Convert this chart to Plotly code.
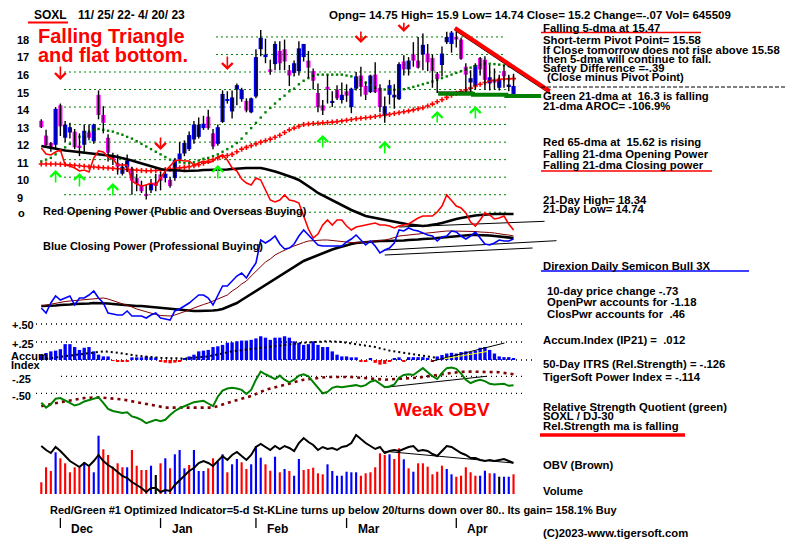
import plotly.graph_objects as go

W, H = 800, 540

# ---------------- DATA (trading-day index 0 = 11/25/22 ... 99 = 4/20/23) ----------------
opens = [13.22,12.37,11.95,11.85,14.10,12.25,12.55,12.60,11.80,11.85,
         12.55,12.05,14.70,13.55,12.25,11.20,10.80,10.20,10.55,10.50,
         9.95,9.55,9.05,9.25,9.70,10.15,9.95,9.85,9.95,11.00,
         11.35,11.60,12.15,12.30,12.80,13.45,12.50,11.90,13.15,14.35,
         13.75,15.00,14.45,14.35,13.70,14.60,17.30,16.85,16.15,16.45,
         17.20,17.30,16.10,15.95,16.05,16.85,16.65,16.05,14.80,14.10,
         15.15,14.25,15.00,14.40,14.90,14.00,15.05,15.80,15.20,14.85,
         15.85,15.10,13.50,14.70,14.55,14.45,16.60,16.15,17.00,16.65,
         17.00,17.05,16.80,15.90,16.40,17.70,17.60,18.00,17.85,16.30,
         15.40,15.20,16.80,16.70,15.35,15.55,15.10,16.05,15.20,14.75]
highs = [13.30,12.70,12.00,14.00,14.20,13.20,13.10,12.75,12.50,13.00,
         13.00,13.05,14.95,14.05,12.45,11.40,11.30,10.80,11.30,10.60,
         10.20,9.80,9.60,9.90,10.20,10.30,10.40,10.00,11.10,12.00,
         12.10,12.60,13.20,13.40,13.50,13.85,12.75,13.00,14.95,14.90,
         14.95,15.35,15.10,14.50,14.55,17.30,18.40,17.90,16.70,17.75,
         17.75,17.85,16.40,16.65,17.75,17.60,17.20,16.20,15.35,14.40,
         15.85,14.90,15.25,15.40,15.30,15.10,16.00,16.30,15.45,15.85,
         16.55,15.30,14.60,15.55,15.30,16.55,16.95,16.85,17.70,18.00,
         18.20,17.60,17.00,16.00,17.45,18.30,18.34,18.30,17.95,16.50,
         16.10,16.50,16.85,16.90,16.40,16.20,15.85,16.40,15.85,15.90]
lows = [12.80,11.80,11.45,11.60,12.35,12.00,12.20,11.60,11.20,11.45,
        12.10,11.90,13.30,12.50,10.90,10.70,10.15,10.10,10.30,9.00,
        9.20,9.10,8.72,9.10,9.20,9.25,9.70,9.40,9.80,10.90,
        11.20,11.50,11.90,12.20,12.70,12.70,11.60,11.80,13.10,14.20,
        13.35,14.10,14.30,13.70,13.65,14.50,16.90,16.50,15.85,16.10,
        16.10,16.10,15.20,15.75,15.80,16.60,15.65,15.00,13.70,13.55,
        14.20,14.00,14.40,14.20,14.30,13.65,14.95,14.60,14.40,14.80,
        14.80,13.70,13.10,14.15,13.90,14.40,15.80,15.80,16.30,16.20,
        16.10,16.05,15.10,14.80,15.75,17.60,17.10,17.40,16.70,14.80,
        14.80,15.00,15.80,15.00,14.95,15.00,14.95,15.10,14.90,14.74]
closes = [12.85,11.82,11.70,13.90,12.90,13.00,12.85,11.70,11.70,12.65,
          12.25,13.00,13.55,13.10,11.40,11.00,10.60,10.60,10.95,9.80,
          9.60,9.20,8.95,9.65,9.50,9.80,10.20,9.50,11.00,11.35,
          11.95,12.40,13.00,13.00,13.05,12.80,11.75,12.85,14.75,14.45,
          14.55,15.25,15.00,13.80,14.50,16.85,17.95,17.00,16.05,17.60,
          16.50,16.60,15.80,16.50,17.35,17.60,16.25,15.50,14.00,13.80,
          15.00,14.35,14.50,14.70,14.65,15.05,15.75,15.15,14.70,15.80,
          14.85,14.00,14.05,15.25,14.70,16.45,16.15,16.65,16.65,16.25,
          17.55,16.55,16.05,15.60,17.05,18.00,18.25,17.85,16.75,15.85,
          15.65,16.40,16.15,15.55,15.70,15.40,15.60,15.75,15.27,15.20]

ma21 = [10.9,11.0,11.1,11.3,11.5,11.7,11.9,12.1,12.3,12.45,
        12.6,12.7,12.75,12.7,12.65,12.6,12.5,12.42,12.3,12.2,
        12.05,11.9,11.75,11.6,11.45,11.3,11.15,11.0,10.9,10.85,
        10.8,10.8,10.85,10.95,11.05,11.1,11.2,11.3,11.45,11.6,
        11.75,11.95,12.2,12.5,12.8,13.1,13.4,13.7,13.95,14.2,
        14.45,14.65,14.9,15.05,15.3,15.5,15.65,15.78,15.85,15.85,
        15.85,15.85,15.85,15.85,15.8,15.75,15.65,15.55,15.4,15.25,
        15.1,15.0,15.0,15.0,14.98,15.0,15.02,15.08,15.15,15.22,
        15.3,15.38,15.46,15.55,15.65,15.75,15.85,15.95,16.05,16.15,
        16.25,16.35,16.42,16.47,16.47,16.45,16.42,16.38,16.33,16.3]
ma65 = [10.75,10.75,10.75,10.75,10.74,10.72,10.70,10.68,10.65,10.62,
        10.60,10.58,10.56,10.54,10.52,10.50,10.48,10.46,10.44,10.42,
        10.40,10.38,10.37,10.37,10.38,10.40,10.43,10.46,10.50,10.53,
        10.56,10.60,10.65,10.71,10.80,10.90,11.00,11.10,11.19,11.24,
        11.30,11.45,11.60,11.70,11.80,11.90,12.00,12.08,12.17,12.28,
        12.39,12.55,12.70,12.80,12.90,13.00,13.03,13.06,13.08,13.10,
        13.12,13.14,13.17,13.21,13.25,13.29,13.33,13.36,13.39,13.42,
        13.46,13.50,13.54,13.58,13.63,13.68,13.73,13.78,13.84,13.90,
        13.96,14.06,14.17,14.30,14.42,14.55,14.68,14.78,14.88,14.98,
        15.08,15.20,15.30,15.40,15.47,15.53,15.58,15.60,15.61,15.62]

open_power = [110,104,103,106,108,93,92,90,87,88,
              86,100,107,106,101,99,93,93,93,77,
              74,72,73,75,73,80,87,92,97,98,
              97,97,93,95,97,95,97,101,103,98,
              90,87,79,75,73,80,78,68,58,56,
              58,63,58,57,55,42,29,20,24,33,
              38,33,38,38,32,28,31,32,33,34,
              35,33,33,32,30,32,33,34,37,40,
              42,42,42,46,52,63,57,52,50,45,
              36,32,38,45,43,39,40,42,34,28]
close_power = [-50,-55,-45,-38,-42,-40,-38,-47,-40,-40,
               -37,-33,-40,-45,-55,-56,-57,-57,-53,-58,
               -58,-58,-60,-57,-55,-60,-61,-62,-53,-51,
               -48,-45,-41,-37,-37,-40,-47,-38,-28,-28,
               -23,-18,-15,-20,-12,-5,18,15,18,22,
               14,9,10,14,22,28,23,18,13,12,
               12,12,12,12,16,19,23,18,13,17,
               12,5,8,10,15,28,27,30,28,27,
               25,23,22,17,21,22,27,26,22,19,
               22,26,20,14,13,15,18,17,17,19]
open_power_ma = [112,111,110,109,108,107.5,107,106.5,106,105.5,
                 105,104.5,104,103.5,103,102,101,100,99,97.5,
                 96,94.5,93,91.5,90,89,88,88,88,87.5,
                 87,87,87,87.5,88,88,88,88,88,88.5,
                 89,89.5,90,90,90,90,90,89,88,86.5,
                 85,83.5,82,80,78,75,72,68.5,65,62.5,
                 60,57.5,55,52.5,50,48,46,44,42,41,
                 40,39,38,37,36,35,34,33.5,33,32.5,
                 32,32.5,33,34,35,36.5,38,39,40,41,
                 42,42.5,43,43.5,44,44,44,44,44,44]
close_power_ma = [-48,-48,-47.5,-47.5,-47,-47,-46.5,-46,-46,-46,
                  -45.5,-45,-45,-45,-45.5,-46,-46.5,-47,-47,-47.5,
                  -48,-48,-48.5,-49,-49.5,-50,-50.5,-51,-51.5,-52,
                  -52,-52.5,-53,-53,-53,-53,-52.5,-52,-51,-49,
                  -47,-45,-42,-39,-36,-33,-30,-27,-24,-21,
                  -18,-15,-12,-9,-6,-3,-1,1,3,5,
                  7,8.5,10,11.5,13,14,15,15.5,16,16.5,
                  17,17,17,17,17,17,17.5,18,18,18.5,
                  19,19,19.5,20,20.5,21,21.5,22,22.5,23,
                  23,23,23,22.5,22.5,22,21.5,21,20.5,20]
close_power_ma_short = [-48,-47,-46,-45,-44,-43.5,-43,-42.5,-42,-41.5,
                        -41,-40.5,-40,-40,-41,-42.5,-44,-45.5,-47,-49,
                        -51,-52.5,-54,-55.5,-56.5,-57.5,-58,-58,-57,-55.5,
                        -54,-52,-50,-48,-46.5,-45,-43,-41,-39,-37,
                        -33,-30,-26,-23,-18,-13,-8,-4,-1,3,
                        5.5,8,10,12,14,15.5,17,17.5,18,18,
                        18,17.5,17,17,16,15.5,15,15.5,16,16.5,
                        17,17,18,19,20.5,22,22.5,23,23.5,24,
                        25,25.5,26,26.5,27,27,27,27,27,27,
                        27,26.5,26,26,25.5,25,24,23.5,23,22]

accum = [.074,.097,.12,.13,.15,.22,.22,.18,.14,.17,
         .18,.12,.074,.05,.05,-.01,-.02,-.02,-.02,.037,
         .037,.037,.05,.037,.037,-.028,-.037,-.046,-.037,-.02,
         .028,.05,.074,.12,.13,.14,.18,.19,.21,.24,
         .245,.26,.27,.27,.28,.30,.33,.31,.28,.31,
         .31,.33,.31,.26,.24,.21,.22,.26,.21,.18,
         .18,.12,.074,.05,.05,.037,.037,-.028,-.02,.028,
         -.04,-.065,-.055,-.028,.028,.037,-.02,.04,.04,.04,
         .04,.03,-.02,.05,.07,.09,.10,.09,.11,.12,
         .11,.13,.17,.18,.14,.09,.05,.04,.04,.02]
accum_ma_idx = [0,5,10,13,16,20,25,30,35,40,45,50,55,60,63,66,70,73,77,80,83]
accum_ma = [.01,.05,.10,.12,.10,.06,.03,.02,.05,.12,.16,.20,.24,.26,.25,.22,.18,.13,.09,.06,.03]

rs_quotient = [-.64,-.71,-.66,-.58,-.57,-.60,-.64,-.68,-.66,-.62,
               -.60,-.58,-.56,-.64,-.73,-.76,-.77,-.79,-.78,-.84,
               -.86,-.89,-.94,-.91,-.89,-.91,-.89,-.82,-.76,-.72,
               -.69,-.66,-.63,-.62,-.61,-.65,-.69,-.55,-.46,-.43,
               -.42,-.43,-.45,-.51,-.45,-.30,-.18,-.22,-.26,-.29,
               -.24,-.30,-.34,-.30,-.24,-.22,-.25,-.33,-.42,-.50,
               -.48,-.42,-.40,-.41,-.40,-.39,-.38,-.40,-.38,-.33,
               -.31,-.36,-.41,-.40,-.37,-.27,-.23,-.22,-.23,-.18,
               -.13,-.19,-.25,-.29,-.20,-.13,-.12,-.14,-.21,-.30,
               -.35,-.32,-.30,-.32,-.36,-.37,-.36,-.36,-.39,-.38]
rs_ma_idx = [0,4,9,12,17,21,26,30,36,40,44,47,51,55,60,65,72,79,86,89,96,99]
rs_ma = [-.69,-.63,-.57,-.56,-.59,-.64,-.71,-.71,-.71,-.62,-.54,-.45,-.37,-.30,-.26,-.26,-.30,-.27,-.20,-.18,-.19,-.22]

volume_k = [384,876,754,1368,1171,1007,712,876,876,1040,
            895,712,1912,1466,1279,895,1007,876,876,1443,
            928,787,787,928,623,1007,1171,843,1302,1443,
            843,951,1443,754,754,843,1171,1059,1302,712,
            974,1148,1040,820,974,1574,1191,974,764,1223,
            712,820,754,600,1148,787,820,863,679,646,
            974,754,600,600,731,712,712,600,679,712,
            876,1335,1279,1302,1148,1499,1138,843,731,1007,
            1007,895,646,731,928,820,646,567,600,876,
            712,600,600,764,679,679,567,567,567,646]
volume_dir = list("rrrbrrrrrbrbbrrrrrbrrrrbkrbrbbbrbbbrrbbrbbrrbbbrrbrbrbbrrrrrbbbbbbbrrrrrrbrrbrbrrrrrrbbrrrrrbbrbkbbr")
obv = [48,44,41,47,43,38,33,30,27,31,28,33,39,33,29,26,22,18,16,12,
       9,6,2,6,6,2,4,3,9,14,19,23,26,31,33,31,28,33,38,34,
       39,42,38,34,39,47,50,47,44,48,45,48,46,43,51,56,52,49,44,47,
       45,46,44,47,48,51,59,55,51,48,45,47,41,43,44,43,45,47,48,43,
       44,43,40,38,43,48,47,44,41,39,36,36,34,33,34,33,34,35,33,31]

# trend lines (x = trading-day index)
resist_x, resist_y = [86.7, 106.6], [18.51, 14.90]
support_x, support_y = [83.2, 90.5, 90.5, 97.5, 97.5, 104.8], [14.76, 14.76, 14.70, 14.70, 14.63, 14.63]
low_line_x, low_line_y = [83.0, 90.5], [14.86, 14.86]
power_tl = [([75, 105.5], [31, 36.7]), ([72, 108], [8, 17.3]), ([72, 103], [3, 10])]
accum_tl_x, accum_tl_y = [81.8, 97.1], [-0.018, 0.236]
accum_yl_x, accum_yl_y = [84.6, 93.6], [0.018, 0.12]
rs_tl_x, rs_tl_y = [72.3, 93.3], [-0.41, -0.25]
obv_tl_x, obv_tl_y = [72, 98.9], [42.7, 31]

sell_idx = [4, 39, 25, 67, 76]
sell_head = [15.54, 16.11, 11.55, 17.65, 18.28]
sell_tail = [16.40, 16.97, 12.35, 18.40, 18.90]
buy_idx = [3, 8, 15, 37, 59, 72, 83, 91]
buy_head = [10.41, 10.24, 9.67, 10.70, 12.41, 12.06, 13.78, 14.06]
buy_tail = [9.61, 9.38, 8.87, 9.84, 11.61, 11.27, 13.03, 13.26]

price_grid_levels = [8, 9, 10, 11, 12, 13, 14, 15, 16]
price_grid_high_levels = [17, 18]
price_tick_labels = [18, 17, 16, 15, 14, 13, 12, 11, 10, 9]
month_idx = [4, 25, 45, 64, 87]
month_names = ["Dec", "Jan", "Feb", "Mar", "Apr"]

# ---------------- geometry helpers ----------------
X_PX0, X_SLOPE = 33.3, 4.77
x0 = -X_PX0 / X_SLOPE
x_range = [x0, x0 + W / X_SLOPE]


def yrange(v_ref, py_ref, px_per_unit):
    span = H / px_per_unit
    r0 = v_ref - (1 - py_ref / H) * span
    return [r0, r0 + span]


def px(x):
    return x / W


def py(y):
    return 1 - y / H


n = len(closes)
idx = list(range(n))
BLUE, MAG, RED, GREEN = "#0000ff", "#ff00ff", "#ff0000", "#008000"

fig = go.Figure()

# ---- price panel ----
fig.add_trace(go.Scatter(x=idx, y=ma21, mode="markers", marker=dict(symbol="square", size=2.4, color=GREEN), yaxis="y", hoverinfo="skip"))
fig.add_trace(go.Scatter(x=idx, y=ma65, mode="markers",
                         marker=dict(symbol="cross-thin", size=3.6, color=RED, line=dict(width=1.6, color=RED)),
                         yaxis="y", hoverinfo="skip"))
wx, wy = [], []
for i in idx:
    wx += [i, i, None]
    wy += [lows[i], highs[i], None]
fig.add_trace(go.Scatter(x=wx, y=wy, mode="lines", line=dict(color="black", width=1.4), yaxis="y", hoverinfo="skip"))
body_base = [min(o, c) for o, c in zip(opens, closes)]
body_h = [max(abs(c - o), 0.08) for o, c in zip(opens, closes)]
body_col = [BLUE if c >= o else MAG for o, c in zip(opens, closes)]
fig.add_trace(go.Bar(x=idx, y=body_h, base=body_base, width=0.88, marker=dict(color=body_col, line=dict(width=0)), yaxis="y", hoverinfo="skip"))
fig.add_trace(go.Scatter(x=resist_x, y=[v - 0.1 for v in resist_y], mode="lines", line=dict(color="black", width=2), yaxis="y"))
fig.add_trace(go.Scatter(x=resist_x, y=resist_y, mode="lines", line=dict(color=RED, width=4), yaxis="y"))
fig.add_trace(go.Scatter(x=low_line_x, y=low_line_y, mode="lines", line=dict(color="black", width=1), yaxis="y"))
fig.add_trace(go.Scatter(x=support_x, y=support_y, mode="lines", line=dict(color=GREEN, width=4), yaxis="y"))

# ---- power panel ----
for tx, ty in power_tl:
    fig.add_trace(go.Scatter(x=tx, y=ty, mode="lines", line=dict(color="black", width=1), yaxis="y2"))
fig.add_trace(go.Scatter(x=idx, y=open_power_ma, mode="lines", line=dict(color="black", width=2.6), yaxis="y2"))
fig.add_trace(go.Scatter(x=idx, y=close_power_ma, mode="lines", line=dict(color="black", width=2.6), yaxis="y2"))
fig.add_trace(go.Scatter(x=idx, y=close_power_ma_short, mode="lines", line=dict(color="#800000", width=1), yaxis="y2"))
fig.add_trace(go.Scatter(x=idx, y=open_power, mode="lines", line=dict(color=RED, width=1.6), yaxis="y2"))
fig.add_trace(go.Scatter(x=idx, y=close_power, mode="lines", line=dict(color=BLUE, width=1.6), yaxis="y2"))

# ---- accumulation index ----
fig.add_trace(go.Bar(x=idx, y=accum, width=0.7, marker=dict(color=[BLUE if a >= 0 else RED for a in accum], line=dict(width=0)), yaxis="y3"))
fig.add_trace(go.Scatter(x=accum_ma_idx, y=accum_ma, mode="lines", line=dict(color="black", width=2, dash="2px,3px"), yaxis="y3"))
fig.add_trace(go.Scatter(x=accum_tl_x, y=accum_tl_y, mode="lines", line=dict(color="black", width=1), yaxis="y3"))
fig.add_trace(go.Scatter(x=accum_yl_x, y=accum_yl_y, mode="lines", line=dict(color="#ffff00", width=1), yaxis="y3"))

# ---- relative strength ----
fig.add_trace(go.Scatter(x=rs_ma_idx, y=rs_ma, mode="lines", line=dict(color="#800000", width=2.6, dash="3px,4px"), yaxis="y4"))
fig.add_trace(go.Scatter(x=rs_tl_x, y=rs_tl_y, mode="lines", line=dict(color="black", width=1), yaxis="y4"))
fig.add_trace(go.Scatter(x=idx, y=rs_quotient, mode="lines", line=dict(color=GREEN, width=2), yaxis="y4"))

# ---- volume & OBV ----
vc = {"r": RED, "b": BLUE, "k": "black"}
fig.add_trace(go.Bar(x=idx, y=volume_k, width=0.45, marker=dict(color=[vc[c] for c in volume_dir], line=dict(width=0)), yaxis="y5"))
fig.add_trace(go.Scatter(x=obv_tl_x, y=obv_tl_y, mode="lines", line=dict(color="black", width=1), yaxis="y6"))
fig.add_trace(go.Scatter(x=idx, y=obv, mode="lines", line=dict(color="black", width=2), yaxis="y6"))

# ---------------- shapes ----------------
shapes = []
gstart, gstart_hi, gend = (56 - X_PX0) / X_SLOPE, (208 - X_PX0) / X_SLOPE, (498 - X_PX0) / X_SLOPE
for lv in price_grid_levels:
    shapes.append(dict(type="line", xref="x", yref="y", x0=gstart, x1=gend, y0=lv, y1=lv, layer="below",
                       line=dict(color=GREEN, width=1, dash="2px,3px")))
for lv in price_grid_high_levels:
    shapes.append(dict(type="line", xref="x", yref="y", x0=gstart_hi, x1=gend, y0=lv, y1=lv, layer="below",
                       line=dict(color=GREEN, width=1, dash="2px,3px")))
dl = dict(color="black", width=1.3, dash="1px,4px")
for yv, xa, xb in [(352 - 0.5 * 72, 28, 518), (352 - 0.25 * 72, 28, 518), (352, 28, 527)]:
    shapes.append(dict(type="line", xref="paper", yref="paper", x0=px(xa), x1=px(xb), y0=py(yv), y1=py(yv), layer="below", line=dl))
for yv, xa, xb in [(368.3, 53, 518), (385.3, 28, 518)]:
    shapes.append(dict(type="line", xref="paper", yref="paper", x0=px(xa), x1=px(xb), y0=py(yv), y1=py(yv), layer="below", line=dl))
for mi in month_idx:
    shapes.append(dict(type="line", xref="x", yref="paper", x0=mi, x1=mi, y0=py(510), y1=py(520), line=dict(color="black", width=1.3)))
# underlines
for xa, xb, yv, col, wd in [(20, 60, 14.5, RED, 2), (533, 693, 24.5, RED, 1.5), (533, 704, 163, RED, 1.5),
                            (533, 741, 263, BLUE, 1.5), (532, 677, 427, RED, 3.5)]:
    shapes.append(dict(type="line", xref="paper", yref="paper", x0=px(xa), x1=px(xb), y0=py(yv), y1=py(yv), line=dict(color=col, width=wd)))
shapes.append(dict(type="line", xref="paper", yref="paper", x0=px(533), x1=px(777), y0=py(79), y1=py(79),
                   line=dict(color="black", width=1, dash="4px,2px")))

# ---------------- annotations ----------------
ann = []
FONT = "Liberation Sans, Arial, sans-serif"


def txt(x, y, s, size=11, color="black", bold=True):
    ann.append(dict(xref="paper", yref="paper", x=px(x), y=py(y), text=("<b>%s</b>" % s) if bold else s,
                    showarrow=False, xanchor="left", yanchor="middle",
                    font=dict(family=FONT, size=size, color=color)))


NB = "\u00a0"
txt(24, 7, "SOXL", 12)
txt(68, 7, "11/ 25/ 22- 4/ 20/ 23", 12)
txt(319, 7, "Opng= 14.75 High= 15.9 Low= 14.74 Close= 15.2 Change=-.07 Vol= 645509", 11.5)
txt(28, 28, "Falling Triangle", 20, RED)
txt(28, 47, "and flat bottom.", 20, RED)
for k, lab in enumerate(price_tick_labels):
    vy = 64 - (lab - 16) * 17.53 + 3
    txt(7, vy, str(lab), 11)
txt(8, 205, "o", 11)
right = [(533, 20, "Falling 5-dma at 15.47"),
         (533, 31.5, "Short-term Pivot Point= 15.58"),
         (533, 42, "If Close tomorrow does not rise above 15.58"),
         (533, 51, "then 5-dma will continue to fall."),
         (533, 60, "Safety Difference =-.39"),
         (537, 69, "(Close minus Pivot Point)"),
         (533, 88, "Green 21-dma at" + NB + NB + "16.3 is falling"),
         (533, 98, "21-dma AROC= -106.9%"),
         (533, 134, "Red 65-dma at" + NB + NB + "15.62 is rising"),
         (533, 146, "Falling 21-dma Opening Power"),
         (533, 157, "Falling 21-dma Closing power"),
         (533, 191.5, "21-Day High= 18.34"),
         (533, 201, "21-Day Low= 14.74"),
         (533, 258, "Direxion Daily Semicon Bull 3X"),
         (537, 283, "10-day price change -.73"),
         (537, 294, "OpenPwr accounts for -1.18"),
         (537, 306, "ClosPwr accounts for" + NB + NB + ".46"),
         (533, 332, "Accum.Index (IP21) =" + NB + NB + ".012"),
         (533, 355.5, "50-Day ITRS (Rel.Strength) = -.126"),
         (533, 369, "TigerSoft Power Index = -.114"),
         (533, 398.5, "Relative Strength Quotient (green)"),
         (533, 408, "SOXL / DJ-30"),
         (533, 418, "Rel.Strength ma is falling"),
         (533, 457, "OBV (Brown)"),
         (533, 482.5, "Volume"),
         (533, 525, "(C)2023-www.tigersoft.com")]
for x, y, s in right:
    txt(x, y, s, 11.3)
txt(33, 203, "Red Opening Power (Public and Overseas Buying)", 11)
txt(33, 238, "Blue Closing Power (Professional Buying)", 11)
txt(2, 317, "+.50", 11)
txt(2, 336, "+.25", 11)
txt(1, 348, "Accum", 11)
txt(1, 357, "Index", 11)
txt(2, 371, "-.25", 11)
txt(2, 388, "-.50", 11)
txt(384, 401, "Weak OBV", 19, RED)
txt(40, 502, "Red/Green #1 Optimized Indicator=5-d St-KLine turns up below 20/turns down over 80.. Its gain= 158.1% Buy", 11)
for mi, mn in zip(month_idx, month_names):
    ann.append(dict(xref="x", yref="paper", x=mi + 1.9, y=py(521), text="<b>%s</b>" % mn, showarrow=False,
                    xanchor="left", yanchor="middle", font=dict(family=FONT, size=12, color="black")))
for i, hd, tl in zip(sell_idx, sell_head, sell_tail):
    ann.append(dict(xref="x", yref="y", x=i, y=hd, axref="x", ayref="y", ax=i, ay=tl, text="", showarrow=True,
                    arrowhead=4, arrowsize=1.3, arrowwidth=1.6, arrowcolor=RED, standoff=0))
for i, hd, tl in zip(buy_idx, buy_head, buy_tail):
    ann.append(dict(xref="x", yref="y", x=i, y=hd, axref="x", ayref="y", ax=i, ay=tl, text="", showarrow=True,
                    arrowhead=4, arrowsize=1.3, arrowwidth=1.6, arrowcolor="#00ff00", standoff=0))

hidden = dict(visible=False, fixedrange=True)
fig.update_layout(
    width=W, height=H, margin=dict(l=0, r=0, t=0, b=0),
    paper_bgcolor="white", plot_bgcolor="white", showlegend=False, barmode="overlay",
    xaxis=dict(range=x_range, domain=[0, 1], **hidden),
    yaxis=dict(range=yrange(16, 64, 17.53), domain=[0, 1], anchor="x", **hidden),
    yaxis2=dict(range=yrange(0, 250, 1.0), overlaying="y", anchor="x", **hidden),
    yaxis3=dict(range=yrange(0, 352, 72), overlaying="y", anchor="x", **hidden),
    yaxis4=dict(range=yrange(-0.25, 368.3, 68), overlaying="y", anchor="x", **hidden),
    yaxis5=dict(range=yrange(0, 486, 1 / 32.8), overlaying="y", anchor="x", **hidden),
    yaxis6=dict(range=yrange(0, 486, 1.0), overlaying="y", anchor="x", **hidden),
    shapes=shapes, annotations=ann,
)
fig.write_html("out.html")
